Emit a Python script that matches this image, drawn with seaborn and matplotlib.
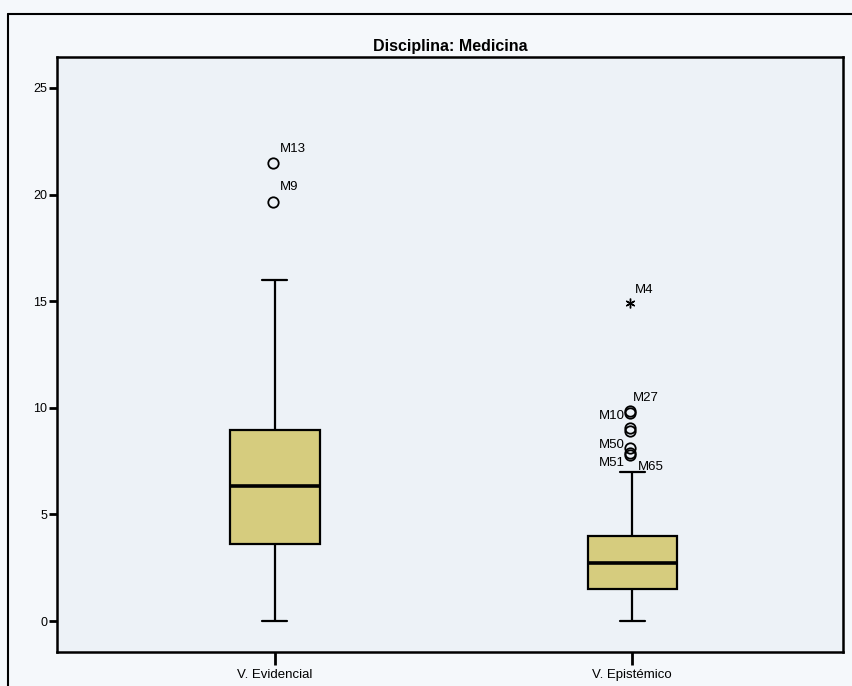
import numpy as np
import pandas as pd
import matplotlib
matplotlib.use("Agg")
import matplotlib.pyplot as plt
from matplotlib.lines import Line2D
import seaborn as sns

# values
categories = ["V. Evidencial", "V. Epistémico"]
whisker_low = [0.0, 0.0]
q1 = [3.6, 1.5]
median = [6.35, 2.7]
q3 = [8.95, 4.0]
whisker_high = [16.0, 7.0]

outlier_group = ["V. Evidencial", "V. Evidencial",
                 "V. Epistémico", "V. Epistémico", "V. Epistémico", "V. Epistémico",
                 "V. Epistémico", "V. Epistémico", "V. Epistémico", "V. Epistémico"]
outlier_value = [21.5, 19.65, 14.9, 9.85, 9.75, 9.05, 8.9, 8.1, 7.9, 7.8]
outlier_label = ["M13", "M9", "M4", "M27", "M10", "", "", "M50", "M51", "M65"]
outlier_kind = ["o", "o", "*", "o", "o", "o", "o", "o", "o", "o"]

yticks = [0, 5, 10, 15, 20, 25]

# label offsets in pixels (x, y) and alignment
label_offsets = {
    "M13": (7, 14, "left"), "M9": (7, 15, "left"), "M4": (5, 13, "left"),
    "M27": (3, 13, "left"), "M10": (-5, -3, "right"), "M50": (-5, 3, "right"),
    "M51": (-5, -10, "right"), "M65": (8, -12, "left"),
}

sns.set_style("white")
plt.rcParams["font.family"] = ["Liberation Sans", "DejaVu Sans"]
plt.rcParams["text.color"] = "black"
plt.rcParams["xtick.color"] = "black"
plt.rcParams["ytick.color"] = "black"

box_df = pd.DataFrame({
    "group": np.repeat(categories, 5),
    "value": np.ravel(np.column_stack([whisker_low, q1, median, q3, whisker_high])),
})
out_df = pd.DataFrame({"group": outlier_group, "value": outlier_value,
                       "label": outlier_label, "kind": outlier_kind})

fig = plt.figure(figsize=(8.53, 6.86), dpi=100, facecolor="#f5f8fb")
ax = fig.add_axes([57 / 853, 1 - 652 / 686, 786 / 853, 595 / 686])
ax.set_facecolor("#edf2f7")

sns.boxplot(data=box_df, x="group", y="value", order=categories, ax=ax,
            width=0.25, color="#d6cc7e", linecolor="black", linewidth=1.6,
            saturation=1, showfliers=False, capwidths=0.07,
            medianprops=dict(linewidth=2.6, color="black"))

pos = {c: i for i, c in enumerate(categories)}
for _, r in out_df.iterrows():
    x = pos[r["group"]] - 0.006
    if r["kind"] == "*":
        ax.plot(x, r["value"], marker=(6, 2, 0), ms=7, mew=1.0, color="black", ls="none")
    else:
        ax.plot(x, r["value"], marker="o", ms=7.5, mfc="none", mec="black", mew=1.3, ls="none")
    if r["label"]:
        dx, dy, ha = label_offsets[r["label"]]
        ax.annotate(r["label"], (x, r["value"]), xytext=(dx, dy), textcoords="offset pixels",
                    ha=ha, va="center", fontsize=9.5, color="black")

ax.set_xlim(-0.61, 1.59)
ax.set_ylim(-1.45, 26.45)
ax.set_yticks(yticks)
ax.set_yticklabels([str(t) for t in yticks])
ax.set_xlabel("")
ax.set_ylabel("")
ax.tick_params(axis="y", length=6, width=2, labelsize=9, pad=1, direction="out", left=True)
ax.tick_params(axis="x", length=9, width=2, labelsize=9.5, pad=3, direction="out", bottom=True)
for s in ax.spines.values():
    s.set_linewidth(1.8)
    s.set_color("black")

fig.text((57 + 843) / 2 / 853, 1 - 46 / 686, "Disciplina: Medicina", ha="center", va="center",
         fontsize=11.5, fontweight="bold", color="black")

# outer frame of the page
fig.add_artist(Line2D([8 / 853, 8 / 853], [0, 1 - 14 / 686], color="black", lw=1.5))
fig.add_artist(Line2D([8 / 853, 1], [1 - 14 / 686, 1 - 14 / 686], color="black", lw=1.5))

fig.savefig("out.png", dpi=100, facecolor=fig.get_facecolor())
